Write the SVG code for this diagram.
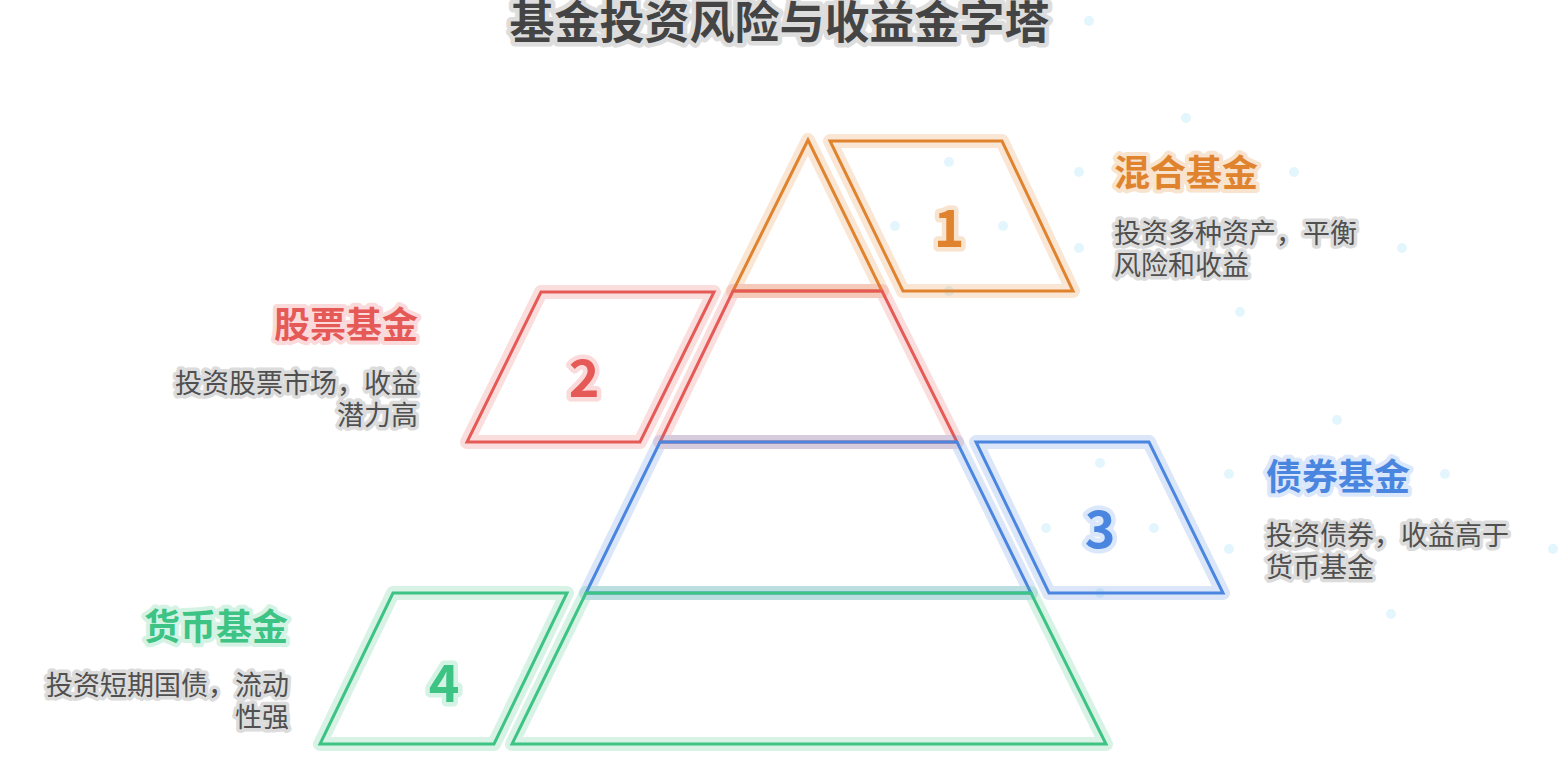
<svg xmlns="http://www.w3.org/2000/svg" width="1559" height="779" viewBox="0 0 1559 779">
<style>
.halo{fill:none;stroke-width:14;stroke-linejoin:round;stroke-opacity:0.2}
.line{fill:none;stroke-width:3;stroke-linejoin:miter}
.o{stroke:#E0832F}.r{stroke:#E55A57}.b{stroke:#4A86E0}.g{stroke:#3DC384}
.cjk{font-family:"Noto Sans CJK SC","Noto Sans",sans-serif}
.head{font-size:36px;font-weight:bold;paint-order:stroke;stroke-width:8;stroke-linejoin:round}
.desc{font-size:27px;fill:#505050;stroke:#dcdcdc;paint-order:stroke;stroke-width:7;stroke-linejoin:round}
.num{font-size:52px;font-weight:bold;text-anchor:middle;paint-order:stroke;stroke-width:9;stroke-linejoin:round}
.dot{fill:#e3f6fd}
</style>
<rect width="1559" height="779" fill="#ffffff"/>
<g id="dots">
<circle class="dot" cx="1089" cy="21" r="5"/>
<circle class="dot" cx="1186" cy="118" r="5"/>
<circle class="dot" cx="949" cy="162" r="5"/>
<circle class="dot" cx="1079" cy="172" r="5"/>
<circle class="dot" cx="1294" cy="172" r="5"/>
<circle class="dot" cx="895" cy="226" r="5"/>
<circle class="dot" cx="1003" cy="226" r="5"/>
<circle class="dot" cx="1079" cy="248" r="5"/>
<circle class="dot" cx="1402" cy="248" r="5"/>
<circle class="dot" cx="949" cy="291" r="5"/>
<circle class="dot" cx="1240" cy="312" r="5"/>
<circle class="dot" cx="1337" cy="420" r="5"/>
<circle class="dot" cx="1100" cy="463" r="5"/>
<circle class="dot" cx="1229" cy="474" r="5"/>
<circle class="dot" cx="1445" cy="474" r="5"/>
<circle class="dot" cx="1046" cy="528" r="5"/>
<circle class="dot" cx="1154" cy="528" r="5"/>
<circle class="dot" cx="1229" cy="549" r="5"/>
<circle class="dot" cx="1553" cy="549" r="5"/>
<circle class="dot" cx="1100" cy="593" r="5"/>
<circle class="dot" cx="1391" cy="614" r="5"/>
</g>
<text id="title" class="cjk" x="779.5" y="39" text-anchor="middle" font-size="45" font-weight="bold" fill="#444444" stroke="#dddddd" stroke-width="9" stroke-linejoin="round" paint-order="stroke">基金投资风险与收益金字塔</text>
<g id="connectors"></g>
<g id="level1">
<polygon class="halo o" points="808,140 882,291 733,291"/>
<polygon class="line o" points="808,140 882,291 733,291"/>
<polygon class="halo o" points="830,141 1002,141 1073,291 903,291"/>
<polygon class="line o" points="830,141 1002,141 1073,291 903,291"/>
<text class="cjk num" x="949" y="247" fill="#E0832F" stroke="#f8e3cf">1</text>
<text class="cjk head" x="1114" y="186" fill="#E0832F" stroke="#f8e3cf">混合基金</text>
<text class="cjk desc" x="1114" y="243">投资多种资产，平衡</text>
<text class="cjk desc" x="1114" y="275">风险和收益</text>
</g>
<g id="level2">
<polygon class="halo r" points="733,291 882,291 957,442 660,442"/>
<polygon class="line r" points="733,291 882,291 957,442 660,442"/>
<polygon class="halo r" points="541,292 714,292 640,442 467,442"/>
<polygon class="line r" points="541,292 714,292 640,442 467,442"/>
<text class="cjk num" x="584" y="397" fill="#E55A57" stroke="#fadadb">2</text>
<text class="cjk head" x="418" y="338" text-anchor="end" fill="#E55A57" stroke="#fadadb">股票基金</text>
<text class="cjk desc" x="418" y="393" text-anchor="end">投资股票市场，收益</text>
<text class="cjk desc" x="418" y="425" text-anchor="end">潜力高</text>
</g>
<g id="level3">
<polygon class="halo b" points="660,442 957,442 1031,593 586,593"/>
<polygon class="line b" points="660,442 957,442 1031,593 586,593"/>
<polygon class="halo b" points="976,442 1149,442 1223,593 1049,593"/>
<polygon class="line b" points="976,442 1149,442 1223,593 1049,593"/>
<text class="cjk num" x="1100" y="548" fill="#4A86E0" stroke="#dbe7fb">3</text>
<text class="cjk head" x="1266" y="490" fill="#4A86E0" stroke="#dbe7fb">债券基金</text>
<text class="cjk desc" x="1266" y="545">投资债券，收益高于</text>
<text class="cjk desc" x="1266" y="577">货币基金</text>
</g>
<g id="level4">
<polygon class="halo g" points="586,593 1031,593 1106,744 512,744"/>
<polygon class="line g" points="586,593 1031,593 1106,744 512,744"/>
<polygon class="halo g" points="393,593 567,593 494,744 320,744"/>
<polygon class="line g" points="393,593 567,593 494,744 320,744"/>
<text class="cjk num" x="444" y="702" fill="#3DC384" stroke="#d5f3e5">4</text>
<text class="cjk head" x="288" y="640" text-anchor="end" fill="#3DC384" stroke="#d5f3e5">货币基金</text>
<text class="cjk desc" x="289" y="695" text-anchor="end">投资短期国债，流动</text>
<text class="cjk desc" x="289" y="727" text-anchor="end">性强</text>
</g>
</svg>
